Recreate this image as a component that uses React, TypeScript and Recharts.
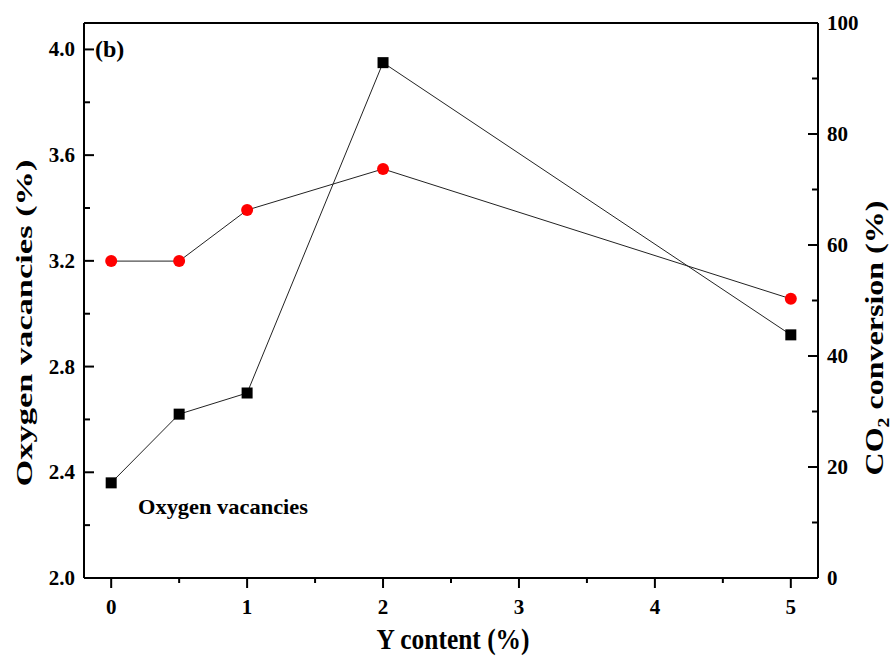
import React from "react";
import { ComposedChart, Line, XAxis, YAxis, ReferenceLine, Customized } from "recharts";

const yContent = [0, 0.5, 1, 2, 5];
const oxygenVacancies = [2.36, 2.62, 2.7, 3.95, 2.92];
const co2Conversion = [57.1, 57.1, 66.3, 73.7, 50.3];

const xTicks = [0, 0.5, 1, 1.5, 2, 2.5, 3, 3.5, 4, 4.5, 5];
const leftTicks = [2.0, 2.2, 2.4, 2.6, 2.8, 3.0, 3.2, 3.4, 3.6, 3.8, 4.0];
const rightTicks = [0, 10, 20, 30, 40, 50, 60, 70, 80, 90, 100];

const data = yContent.map((y, i) => ({
  y,
  ov: oxygenVacancies[i],
  co2: co2Conversion[i],
}));

const FONT = "'Liberation Serif', 'Times New Roman', serif";
const textStyle = { fontFamily: FONT, fontWeight: 700, fill: "#000" };

function BottomTick({ x, y, payload }: any) {
  const major = Number.isInteger(payload.value);
  return (
    <g>
      <line x1={x} x2={x} y1={y} y2={y + (major ? 10 : 5)} stroke="#000" strokeWidth={2} />
      {major && (
        <text x={x} y={y + 36} textAnchor="middle" fontSize={21} style={textStyle}>
          {payload.value}
        </text>
      )}
    </g>
  );
}

function LeftTick({ x, y, payload }: any) {
  const major = Math.round(payload.value * 10) % 4 === 0;
  return (
    <g>
      <line x1={x} x2={x + (major ? 10 : 6)} y1={y} y2={y} stroke="#000" strokeWidth={2} />
      {major && (
        <text x={x - 9} y={y + 7} textAnchor="end" fontSize={21} style={textStyle}>
          {payload.value.toFixed(1)}
        </text>
      )}
    </g>
  );
}

function RightTick({ x, y, payload }: any) {
  const major = payload.value % 20 === 0;
  return (
    <g>
      <line x1={x} x2={x - (major ? 10 : 6)} y1={y} y2={y} stroke="#000" strokeWidth={2} />
      {major && (
        <text x={x + 9} y={y + 7} textAnchor="start" fontSize={21} style={textStyle}>
          {payload.value}
        </text>
      )}
    </g>
  );
}

function SquareDot({ cx, cy }: any) {
  if (cx == null || cy == null) return null;
  return <rect x={cx - 5.5} y={cy - 5.5} width={11} height={11} fill="#000" />;
}

function CircleDot({ cx, cy }: any) {
  if (cx == null || cy == null) return null;
  return <circle cx={cx} cy={cy} r={6} fill="#ff0000" />;
}

function Annotations() {
  return (
    <g>
      <text x={95} y={57} fontSize={24} style={textStyle}>
        (b)
      </text>
      <text x={138} y={514} fontSize={22} textLength={170} lengthAdjust="spacingAndGlyphs" style={textStyle}>
        Oxygen vacancies
      </text>
      <text x={453} y={649} fontSize={29} textAnchor="middle" textLength={153} lengthAdjust="spacingAndGlyphs" style={textStyle}>
        Y content (%)
      </text>
      <text
        x={32}
        y={323}
        fontSize={23}
        textAnchor="middle"
        textLength={327}
        lengthAdjust="spacingAndGlyphs"
        transform="rotate(-90, 32, 323)"
        style={textStyle}
      >
        Oxygen vacancies (%)
      </text>
      <text
        x={883}
        y={338}
        fontSize={26}
        textAnchor="middle"
        textLength={275}
        lengthAdjust="spacingAndGlyphs"
        transform="rotate(-90, 883, 338)"
        style={textStyle}
      >
        CO<tspan dy={6} fontSize={16}>2</tspan>
        <tspan dy={-6}> conversion (%)</tspan>
      </text>
    </g>
  );
}

export default function App() {
  return (
    <div style={{ position: "absolute", left: 0, top: 0, background: "#fff" }}>
      <ComposedChart width={893} height={657} data={data} margin={{ top: 23, right: 0, bottom: 0, left: 0 }}>
        <XAxis
          dataKey="y"
          type="number"
          domain={[-0.2, 5.2]}
          ticks={xTicks}
          interval={0}
          height={79}
          tickSize={0}
          tickMargin={0}
          tickLine={false}
          axisLine={{ stroke: "#000", strokeWidth: 2 }}
          tick={<BottomTick />}
        />
        <YAxis
          yAxisId="left"
          orientation="left"
          type="number"
          domain={[2.0, 4.1]}
          ticks={leftTicks}
          interval={0}
          width={84}
          tickSize={0}
          tickMargin={0}
          tickLine={false}
          axisLine={{ stroke: "#000", strokeWidth: 2 }}
          tick={<LeftTick />}
        />
        <YAxis
          yAxisId="right"
          orientation="right"
          type="number"
          domain={[0, 100]}
          ticks={rightTicks}
          interval={0}
          width={75}
          tickSize={0}
          tickMargin={0}
          tickLine={false}
          axisLine={{ stroke: "#000", strokeWidth: 2 }}
          tick={<RightTick />}
        />
        <ReferenceLine yAxisId="left" y={4.1} stroke="#000" strokeWidth={2} />
        <Line
          yAxisId="left"
          dataKey="ov"
          type="linear"
          stroke="#222"
          strokeWidth={1}
          dot={<SquareDot />}
          activeDot={false}
          isAnimationActive={false}
        />
        <Line
          yAxisId="right"
          dataKey="co2"
          type="linear"
          stroke="#222"
          strokeWidth={1}
          dot={<CircleDot />}
          activeDot={false}
          isAnimationActive={false}
        />
        <Customized component={<Annotations />} />
      </ComposedChart>
    </div>
  );
}
